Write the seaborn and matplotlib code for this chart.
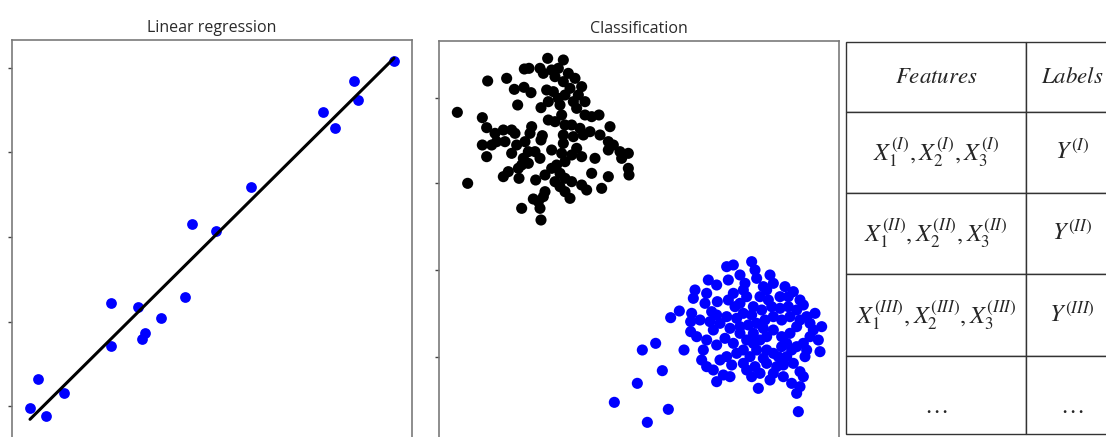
import pandas as pd
import seaborn as sns
import matplotlib.pyplot as plt

# regression data
reg_x = [0.45, 0.65, 0.85, 1.3, 2.48, 2.48, 3.15, 3.25, 3.33, 3.73, 4.33, 4.5, 5.1, 5.98, 7.78, 8.08, 8.55, 8.65, 9.55]
reg_y = [-0.02, 0.32, -0.12, 0.15, 1.22, 0.71, 1.17, 0.79, 0.86, 1.04, 1.29, 2.15, 2.07, 2.59, 3.48, 3.29, 3.85, 3.62, 4.08]

# classification data (feature units, second feature grows downward)
class_a = [(37, 202), (128, 108), (185, 100), (238, 72), (252, 70), (208, 133), (237, 127), (258, 143),
           (218, 180), (285, 70), (295, 85), (308, 40), (320, 75), (355, 45), (340, 70), (330, 95),
           (305, 135), (325, 140), (288, 188), (310, 170), (355, 110), (370, 85), (390, 100), (375, 130),
           (400, 150), (410, 125), (420, 170), (395, 190), (345, 180), (350, 210), (360, 240), (340, 160),
           (420, 210), (440, 215), (462, 210), (380, 240), (405, 250), (415, 270), (385, 275), (355, 270),
           (355, 295), (112, 218), (125, 248), (150, 265), (175, 255), (200, 255), (210, 265), (155, 290),
           (140, 300), (112, 300), (125, 335), (180, 290), (200, 325), (240, 290), (260, 245), (292, 272),
           (288, 285), (250, 320), (270, 320), (285, 340), (320, 315), (350, 325), (380, 330), (410, 335),
           (235, 340), (230, 360), (220, 370), (190, 380), (175, 395), (222, 400), (272, 405), (300, 390),
           (320, 370), (335, 360), (345, 385), (360, 400), (330, 410), (345, 425), (380, 410), (360, 440),
           (375, 460), (410, 420), (425, 435), (440, 385), (450, 340), (470, 430), (490, 395), (465, 270),
           (490, 290), (495, 245), (505, 300), (490, 315), (525, 320), (530, 340), (550, 325), (550, 370),
           (552, 390), (68, 415), (230, 490), (265, 462), (280, 470), (295, 455), (285, 490), (288, 525),
           (310, 225), (330, 230), (250, 355), (360, 350), (395, 310), (300, 440), (385, 170), (360, 150),
           (435, 260), (255, 265), (215, 300)]
class_b = [(508, 1072), (607, 1132), (670, 1093), (577, 1015), (652, 977), (592, 915), (632, 895), (677, 818),
           (703, 798), (717, 915), (740, 805), (737, 830), (750, 735), (745, 760), (737, 860), (755, 875),
           (790, 705), (785, 745), (780, 775), (815, 720), (817, 770), (845, 665), (865, 660), (850, 705),
           (885, 690), (900, 715), (920, 650), (930, 675), (935, 700), (865, 745), (905, 755), (870, 785),
           (895, 805), (925, 785), (955, 725), (975, 690), (985, 715), (970, 765), (1005, 755), (1020, 725),
           (1030, 755), (1045, 740), (1065, 765), (1055, 795), (1075, 780), (1085, 815), (1110, 805), (1130, 845),
           (1105, 855), (1120, 885), (1125, 920), (1095, 875), (1075, 895), (1080, 935), (1065, 980), (1075, 995),
           (1065, 1025), (1040, 1015), (1055, 1045), (1060, 1100), (940, 1030), (815, 1010), (835, 990), (855, 995),
           (775, 915), (770, 945), (785, 965), (805, 975), (785, 885), (805, 855), (825, 835), (855, 850),
           (840, 880), (815, 900), (865, 895), (875, 925), (845, 935), (825, 945), (860, 960), (895, 955),
           (905, 975), (930, 965), (945, 985), (965, 955), (985, 985), (995, 965), (1015, 960), (1025, 935),
           (1045, 955), (1040, 915), (1010, 905), (985, 925), (965, 915), (935, 915), (915, 935), (895, 915),
           (905, 885), (925, 865), (945, 885), (965, 875), (985, 855), (1010, 875), (1035, 865), (1055, 845),
           (1065, 825), (1035, 815), (1010, 825), (985, 815), (960, 825), (935, 835), (910, 840), (885, 845),
           (885, 865), (920, 810), (950, 795), (980, 785), (1005, 790), (1030, 785), (945, 755), (895, 735),
           (875, 820), (845, 815), (815, 810), (795, 830), (765, 825), (965, 735), (1000, 935), (955, 940),
           (925, 895), (1025, 895), (1055, 905), (1095, 835), (850, 765), (800, 800), (955, 850), (885, 775),
           (920, 995), (975, 1005), (1015, 995), (1085, 915)]

# table content
table_header = [r'$\mathit{Features}$', r'$\mathit{Labels}$']
table_rows = [
    [r'$X_1^{(I)},X_2^{(I)},X_3^{(I)}$', r'$Y^{(I)}$'],
    [r'$X_1^{(II)},X_2^{(II)},X_3^{(II)}$', r'$Y^{(II)}$'],
    [r'$X_1^{(III)},X_2^{(III)},X_3^{(III)}$', r'$Y^{(III)}$'],
    [r'$\ldots$', r'$\ldots$'],
]

sns.set_style('white')
plt.rcParams['font.family'] = ['Open Sans', 'DejaVu Sans']
plt.rcParams['mathtext.fontset'] = 'stix'

df_cls = pd.DataFrame(
    [(x, y, 'a') for x, y in class_a] + [(x, y, 'b') for x, y in class_b],
    columns=['f1', 'f2', 'cls'])

fig = plt.figure(figsize=(11.06, 4.37), dpi=100)
ax1 = fig.add_axes([12 / 1106, -8 / 437, 400 / 1106, 405 / 437])
ax2 = fig.add_axes([439 / 1106, -8 / 437, 400 / 1106, 404 / 437])
ax3 = fig.add_axes([846 / 1106, 3 / 437, 272 / 1106, 392 / 437])

sns.regplot(x=reg_x, y=reg_y, ax=ax1, ci=None,
            scatter_kws={'s': 60, 'color': 'blue', 'linewidths': 0, 'alpha': 1},
            line_kws={'color': 'black', 'lw': 2.2})
ax1.set_xlim(0, 10)
ax1.set_ylim(-0.46, 4.33)
ax1.set_yticks([0, 1, 2, 3, 4])
ax1.set_title('Linear regression', fontsize=11.5, color='#2a2a2a', pad=6)

sns.scatterplot(data=df_cls, x='f1', y='f2', hue='cls', palette={'a': 'black', 'b': 'blue'},
                s=64, linewidth=0, legend=False, ax=ax2)
ax2.set_xlim(-18, 1182)
ax2.set_ylim(1200, -12)
ax2.set_yticks([158, 415, 675, 935])
ax2.set_title('Classification', fontsize=11.5, color='#2a2a2a', pad=6)

for ax in (ax1, ax2):
    ax.set_xticks([])
    ax.set_yticklabels([])
    ax.set_xlabel('')
    ax.set_ylabel('')
    ax.tick_params(axis='y', left=True, length=3, width=1, color='#444444', direction='out')
    for sp in ax.spines.values():
        sp.set_color('#7a7a7a')
        sp.set_linewidth(1.2)

ax3.axis('off')
tbl = ax3.table(cellText=[table_header] + table_rows, colWidths=[180 / 272, 92 / 272],
                cellLoc='center', bbox=[0, 0, 1, 1])
tbl.auto_set_font_size(False)
tbl.set_fontsize(17.5)
row_heights = [70, 81, 81, 82, 78]
for (r, c), cell in tbl.get_celld().items():
    cell.set_height(row_heights[r] / 392)
    cell.set_edgecolor('#333333')
    cell.set_linewidth(1)
    if r == 0:
        cell.get_text().set_fontsize(16.5)
    if r == len(row_heights) - 1:
        cell.get_text().set_va('top')

fig.savefig('out.png', dpi=100)
